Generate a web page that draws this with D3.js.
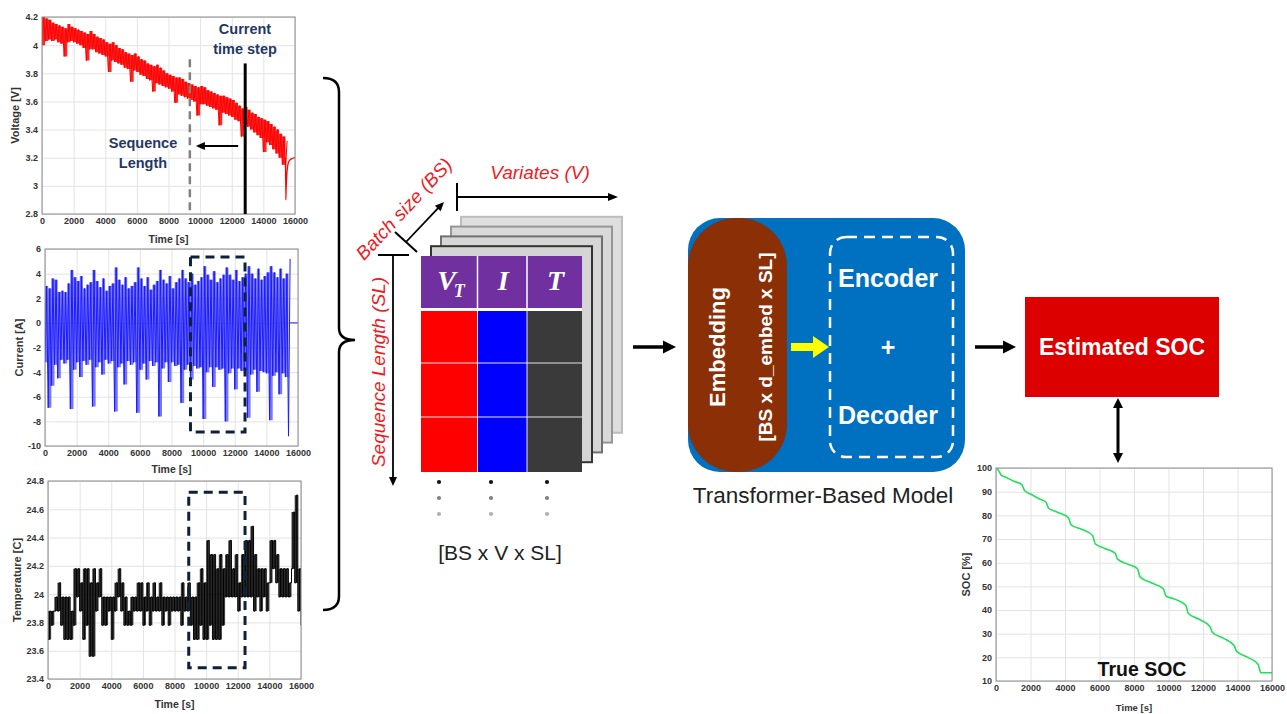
<!DOCTYPE html>
<html>
<head>
<meta charset="utf-8">
<script src="https://cdn.jsdelivr.net/npm/d3@7"></script>
<style>
  html, body { margin: 0; padding: 0; background: #fff; }
  svg { display: block; }
</style>
</head>
<body>
<svg id="fig" width="1287" height="714"></svg>
<script>
// ---------------------------------------------------------------
// Data
// ---------------------------------------------------------------
const timeTicks    = [0, 2000, 4000, 6000, 8000, 10000, 12000, 14000, 16000];
const voltageTicks = [2.8, 3, 3.2, 3.4, 3.6, 3.8, 4, 4.2];
const currentTicks = [-10, -8, -6, -4, -2, 0, 2, 4, 6];
const tempTicks    = [23.4, 23.6, 23.8, 24, 24.2, 24.4, 24.6, 24.8];
const socTicks     = [10, 20, 30, 40, 50, 60, 70, 80, 90, 100];

// Each measured signal is stored as min / max per 200 s window
const windowSec = 200;

// Terminal voltage [V], windows starting at 0 s ... 15400 s
const voltageMax = [4.20,4.19,4.18,4.16,4.15,4.14,4.13,4.12,4.15,4.13,4.12,4.11,4.10,4.09,4.08,4.10,
  4.08,4.06,4.05,4.04,4.02,4.01,4.02,4.00,3.98,3.97,3.95,3.94,3.93,3.94,3.92,3.90,3.89,3.87,3.86,3.85,
  3.86,3.84,3.82,3.80,3.79,3.78,3.77,3.77,3.76,3.74,3.73,3.72,3.71,3.70,3.71,3.70,3.68,3.67,3.66,3.65,
  3.64,3.64,3.63,3.62,3.61,3.59,3.57,3.55,3.56,3.54,3.52,3.51,3.49,3.48,3.47,3.46,3.44,3.42,3.40,3.37,
  3.35,3.32];
const voltageMin = [4.00,4.03,4.04,4.03,4.04,4.02,4.01,3.92,4.02,4.03,4.02,4.01,4.00,3.98,3.89,3.97,
  3.97,3.95,3.94,3.93,3.92,3.81,3.89,3.88,3.87,3.86,3.84,3.83,3.74,3.82,3.81,3.79,3.78,3.76,3.75,3.67,
  3.73,3.72,3.71,3.70,3.69,3.67,3.59,3.65,3.64,3.63,3.62,3.61,3.60,3.50,3.58,3.58,3.57,3.56,3.55,3.54,
  3.43,3.52,3.51,3.50,3.49,3.47,3.46,3.35,3.43,3.42,3.40,3.38,3.36,3.34,3.24,3.31,3.29,3.26,3.23,3.20,
  3.15,3.12];
// End of discharge and relaxation
const voltageEndTime  = [15400, 15420, 15440, 15470, 15520, 15600, 15750, 16000];
const voltageEndValue = [3.20,  2.90,  2.98,  3.06,  3.13,  3.17,  3.19,  3.20];

// Current [A], windows starting at 0 s ... 15400 s
const currentMax = [3.0,2.8,3.6,3.5,2.5,2.6,2.5,3.2,4.3,3.7,3.4,3.8,2.8,3.1,3.3,4.3,
  3.4,2.9,3.6,2.6,3.0,3.2,4.5,3.5,3.1,3.7,2.8,3.0,3.3,4.5,3.6,3.0,3.7,2.7,3.1,3.4,
  4.3,3.5,3.2,3.8,2.8,3.3,3.6,4.3,3.6,3.3,4.0,3.1,3.4,3.7,4.6,3.9,3.5,4.2,3.3,3.6,
  3.9,4.5,3.9,3.5,4.3,3.4,3.7,4.0,4.6,4.0,3.6,4.4,3.5,3.8,4.1,4.6,4.1,3.7,4.4,3.6,
  4.0,5.2];
const currentMin = [-3.2,-6.9,-5.1,-3.4,-4.5,-3.0,-3.3,-3.0,-7.0,-3.8,-3.2,-4.4,-3.1,-3.4,-3.0,-6.8,
  -3.6,-3.2,-4.2,-3.0,-3.3,-3.1,-7.2,-3.6,-3.3,-5.0,-3.1,-3.4,-3.2,-7.3,-3.8,-3.3,-4.6,-3.1,-3.5,-3.2,
  -7.6,-3.7,-3.2,-4.8,-3.2,-3.5,-3.4,-6.5,-3.8,-3.4,-4.6,-3.5,-3.7,-3.6,-7.8,-4.0,-3.6,-5.2,-3.6,-3.8,
  -3.7,-8.0,-4.1,-3.7,-5.4,-3.7,-3.9,-3.8,-7.7,-4.2,-3.8,-5.6,-3.9,-4.0,-4.1,-7.9,-4.3,-4.0,-5.8,-4.1,
  -4.4,-9.2];
const currentEndTime  = [15500, 16000];
const currentEndValue = [0, 0];

// Cell temperature [C], windows starting at 0 s ... 16000 s
const tempMax = [23.88,23.88,23.98,24.08,23.98,23.98,23.98,23.88,24.18,24.18,24.08,24.18,24.18,24.08,24.18,24.08,
  24.18,23.98,23.98,23.98,23.98,24.08,24.18,24.08,23.98,23.88,23.98,23.98,24.08,24.08,23.98,24.08,23.98,24.08,
  23.98,24.08,23.98,23.98,23.98,23.98,23.98,23.98,24.08,23.98,24.08,23.98,23.98,24.08,24.18,24.08,24.38,24.28,
  24.28,24.18,24.28,24.18,24.28,24.38,24.18,24.28,24.08,24.28,24.38,24.38,24.48,24.28,24.18,24.18,24.18,24.08,
  24.38,24.38,24.28,24.18,24.18,24.18,24.08,24.58,24.70,24.18,23.98];
const tempMin = [23.68,23.78,23.88,23.88,23.78,23.68,23.68,23.68,23.78,23.98,23.88,23.68,23.78,23.56,23.56,23.88,
  23.98,23.78,23.78,23.88,23.68,23.88,23.98,23.88,23.78,23.78,23.78,23.88,23.88,23.88,23.78,23.88,23.78,23.88,
  23.88,23.88,23.78,23.88,23.78,23.88,23.88,23.88,23.78,23.88,23.88,23.78,23.68,23.68,23.78,23.68,23.68,23.78,
  23.68,23.68,23.68,23.78,23.98,23.98,23.98,23.98,23.88,23.98,23.98,23.98,23.98,23.88,23.98,23.88,23.98,23.88,
  24.08,24.18,24.08,23.98,23.98,23.98,23.98,24.18,24.08,23.88,23.78];

// Reference state of charge [%]
const socTime  = [0, 150, 300, 600, 1000, 1500, 1650, 2000, 2500, 2900, 3050, 3500, 4200, 4350, 5000, 5600,
  5750, 6300, 6900, 7050, 7600, 8200, 8350, 9000, 9700, 9850, 10400, 11000, 11150, 11800, 12400, 12550,
  13200, 13800, 13950, 14600, 15200, 15350, 16000];
const socValue = [100, 99, 97, 96, 94.5, 93, 90.5, 89, 87, 85.5, 83, 81.5, 79, 76, 74, 71.5,
  68, 66, 64, 61.5, 59.5, 57.5, 54, 51.5, 49, 46, 44.5, 42, 38.5, 36, 33, 30.5,
  28, 25, 22.5, 20, 17, 13.5, 13.5];

// Input window annotations
const currentStepTime = 12850;
const windowStartTime = 9350;

// Input tensor
const variateNames  = ["V", "I", "T"];
const variateSubs   = ["T", "", ""];
const variateColors = ["#ff0000", "#0000ff", "#3a3a3a"];

// ---------------------------------------------------------------
// Drawing
// ---------------------------------------------------------------
const SANS = "'Liberation Sans', Arial, Helvetica, sans-serif";
const SERIF = "'Liberation Serif', 'Times New Roman', serif";
const NAVY = "#1f3864";
const RED_TXT = "#ee1c24";

const svg = d3.select("#fig");
const defs = svg.append("defs");

// MATLAB-like axes panel
function panel(cfg) {
  const x = d3.scaleLinear().domain(cfg.xDomain).range([cfg.x0, cfg.x1]);
  const y = d3.scaleLinear().domain(cfg.yDomain).range([cfg.y1, cfg.y0]);
  const w = cfg.x1 - cfg.x0, h = cfg.y1 - cfg.y0;
  const g = svg.append("g");
  g.append("rect").attr("x", cfg.x0).attr("y", cfg.y0).attr("width", w).attr("height", h).attr("fill", "#fff");

  const gx = g.append("g").attr("transform", `translate(0,${cfg.y1})`)
    .call(d3.axisBottom(x).tickValues(timeTicks).tickSize(-h).tickPadding(4).tickFormat(d => String(d)));
  const gy = g.append("g").attr("transform", `translate(${cfg.x0},0)`)
    .call(d3.axisLeft(y).tickValues(cfg.yTicks).tickSize(-w).tickPadding(4).tickFormat(d => String(d)));
  [gx, gy].forEach(a => {
    a.select(".domain").remove();
    a.selectAll(".tick line").attr("stroke", "#e3e3e3").attr("stroke-width", 1);
    a.selectAll(".tick text").attr("font-family", SANS).attr("font-size", cfg.tickSize || 9)
      .attr("font-weight", "bold").attr("fill", "#333");
  });

  const clipId = "clip" + Math.round(cfg.x0) + "_" + Math.round(cfg.y0);
  defs.append("clipPath").attr("id", clipId).append("rect")
    .attr("x", cfg.x0).attr("y", cfg.y0).attr("width", w).attr("height", h);
  const plot = g.append("g").attr("clip-path", `url(#${clipId})`);

  g.append("text").attr("x", (cfg.x0 + cfg.x1) / 2).attr("y", cfg.y1 + cfg.xTitleOffset)
    .attr("text-anchor", "middle").attr("dominant-baseline", "central")
    .attr("font-family", SANS).attr("font-size", cfg.titleSize || 10.5).attr("font-weight", "bold")
    .attr("fill", "#333").text("Time [s]");
  g.append("text").attr("transform", `translate(${cfg.yTitleX},${(cfg.y0 + cfg.y1) / 2}) rotate(-90)`)
    .attr("text-anchor", "middle").attr("dominant-baseline", "central")
    .attr("font-family", SANS).attr("font-size", cfg.yTitleSize || 10.5).attr("font-weight", "bold")
    .attr("fill", "#333").text(cfg.yTitle);

  const frame = () => g.append("rect").attr("x", cfg.x0).attr("y", cfg.y0).attr("width", w).attr("height", h)
    .attr("fill", "none").attr("stroke", "#8a8a8a").attr("stroke-width", 1);
  return { g, plot, x, y, frame };
}

// Min / max trace: every window is drawn from its minimum up to its maximum
function minMaxPoints(minArr, maxArr) {
  const pts = [];
  minArr.forEach((v, i) => {
    pts.push([i * windowSec, v]);
    pts.push([i * windowSec + windowSec / 2, maxArr[i]]);
  });
  return pts;
}

// Filled min / max band plus the min-max trace on top
function drawEnvelope(p, minArr, maxArr, color, fillOpacity, lineCurve) {
  const rows = minArr.map((v, i) => ({ t: i * windowSec, lo: v, hi: maxArr[i] }));
  p.plot.append("path").datum(rows)
    .attr("fill", color).attr("fill-opacity", fillOpacity).attr("stroke", "none")
    .attr("d", d3.area().x(d => p.x(d.t)).y0(d => p.y(d.lo)).y1(d => p.y(d.hi)).curve(d3.curveStepAfter));
  p.plot.append("path").datum(minMaxPoints(minArr, maxArr))
    .attr("fill", "none").attr("stroke", color).attr("stroke-width", 1)
    .attr("d", d3.line().x(d => p.x(d[0])).y(d => p.y(d[1])).curve(lineCurve));
}

function arrow(g, x1, y1, x2, y2, o) {
  const w = o.w || 2, hl = o.hl || 10, hw = o.hw || 8, color = o.color || "#000";
  const dx = x2 - x1, dy = y2 - y1, L = Math.hypot(dx, dy);
  const ux = dx / L, uy = dy / L;
  const sx = o.both ? x1 + ux * hl * 0.8 : x1, sy = o.both ? y1 + uy * hl * 0.8 : y1;
  const ex = x2 - ux * hl * 0.8, ey = y2 - uy * hl * 0.8;
  g.append("line").attr("x1", sx).attr("y1", sy).attr("x2", ex).attr("y2", ey)
    .attr("stroke", color).attr("stroke-width", w);
  const head = (tx, ty, vx, vy) => {
    const bx = tx - vx * hl, by = ty - vy * hl;
    g.append("polygon").attr("fill", color).attr("points",
      [[tx, ty], [bx - vy * hw / 2, by + vx * hw / 2], [bx + vy * hw / 2, by - vx * hw / 2]].map(p => p.join(",")).join(" "));
  };
  head(x2, y2, ux, uy);
  if (o.both) head(x1, y1, -ux, -uy);
}

function label(g, x, y, s, opts) {
  const t = g.append("text").attr("x", x).attr("y", y).attr("text-anchor", "middle")
    .attr("dominant-baseline", "central").attr("font-family", opts.family || SANS)
    .attr("font-size", opts.size).attr("fill", opts.fill || "#000").text(s);
  if (opts.bold) t.attr("font-weight", "bold");
  if (opts.italic) t.attr("font-style", "italic");
  if (opts.rotate) t.attr("x", null).attr("y", null).attr("transform", `translate(${x},${y}) rotate(${opts.rotate})`);
  return t;
}

// ---------- Voltage ----------
const pv = panel({ x0: 42, x1: 295, y0: 17, y1: 214, xDomain: [0, 16000], yDomain: [2.8, 4.2],
  yTicks: voltageTicks, yTitle: "Voltage [V]", yTitleX: 15, xTitleOffset: 25, yTitleSize: 11 });
drawEnvelope(pv, voltageMin, voltageMax, "#ff0000", 0.85, d3.curveLinear);
pv.plot.append("path").datum(voltageEndTime.map((t, i) => [t, voltageEndValue[i]]))
  .attr("fill", "none").attr("stroke", "#ff0000").attr("stroke-width", 1.3)
  .attr("d", d3.line().x(d => pv.x(d[0])).y(d => pv.y(d[1])).curve(d3.curveMonotoneX));
pv.frame();

// window start (dashed) and current time step (solid)
pv.g.append("line").attr("x1", pv.x(windowStartTime)).attr("x2", pv.x(windowStartTime))
  .attr("y1", pv.y(3.9)).attr("y2", pv.y(2.8))
  .attr("stroke", "#808080").attr("stroke-width", 2.5).attr("stroke-dasharray", "8,5");
pv.g.append("line").attr("x1", pv.x(currentStepTime)).attr("x2", pv.x(currentStepTime))
  .attr("y1", pv.y(3.87)).attr("y2", pv.y(2.8))
  .attr("stroke", "#000").attr("stroke-width", 3);
arrow(pv.g, pv.x(currentStepTime) - 7, pv.y(3.283), pv.x(windowStartTime) + 6, pv.y(3.283),
  { w: 2, hl: 9, hw: 8 });
label(pv.g, 245, 29, "Current", { size: 14.5, bold: true, fill: NAVY });
label(pv.g, 245, 49, "time step", { size: 14.5, bold: true, fill: NAVY });
label(pv.g, 143, 143, "Sequence", { size: 14.5, bold: true, fill: NAVY });
label(pv.g, 143, 163, "Length", { size: 14.5, bold: true, fill: NAVY });

// ---------- Current ----------
const pc = panel({ x0: 45, x1: 298, y0: 249, y1: 446, xDomain: [0, 16000], yDomain: [-10, 6],
  yTicks: currentTicks, yTitle: "Current [A]", yTitleX: 19, xTitleOffset: 23, yTitleSize: 11 });
drawEnvelope(pc, currentMin, currentMax, "#1a1aff", 0.6, d3.curveLinear);
pc.plot.append("path").datum(currentEndTime.map((t, i) => [t, currentEndValue[i]]))
  .attr("fill", "none").attr("stroke", "#1a1aff").attr("stroke-width", 1)
  .attr("d", d3.line().x(d => pc.x(d[0])).y(d => pc.y(d[1])));
pc.frame();
pc.g.append("rect").attr("x", pc.x(9200)).attr("y", pc.y(5.35))
  .attr("width", pc.x(12650) - pc.x(9200)).attr("height", pc.y(-8.87) - pc.y(5.35))
  .attr("fill", "none").attr("stroke", "#0d2238").attr("stroke-width", 3).attr("stroke-dasharray", "9,6");

// ---------- Temperature ----------
const pt = panel({ x0: 48, x1: 301, y0: 481, y1: 679, xDomain: [0, 16000], yDomain: [23.4, 24.8],
  yTicks: tempTicks, yTitle: "Temperature [C]", yTitleX: 17, xTitleOffset: 25, yTitleSize: 11 });
drawEnvelope(pt, tempMin, tempMax, "#000000", 0.75, d3.curveStepAfter);
pt.frame();
pt.g.append("rect").attr("x", pt.x(8900)).attr("y", pt.y(24.72))
  .attr("width", pt.x(12460) - pt.x(8900)).attr("height", pt.y(23.48) - pt.y(24.72))
  .attr("fill", "none").attr("stroke", "#0d2238").attr("stroke-width", 3).attr("stroke-dasharray", "9,6");

// ---------- Brace ----------
svg.append("path")
  .attr("d", "M323,78 Q339,78 339,92 L339,328 Q339,340 355,340 Q339,340 339,352 L339,596 Q339,610 323,610")
  .attr("fill", "none").attr("stroke", "#000").attr("stroke-width", 2.5);

// ---------- Input tensor ----------
const tz = svg.append("g");
const mx0 = 421, mx1 = 582, my0 = 256, my1 = 472;
const layerStyle = [
  { fill: "#d4d4d4", stroke: "#333333" },
  { fill: "#d6d6d6", stroke: "#707070" },
  { fill: "#d9d9d9", stroke: "#969696" },
  { fill: "#dedede", stroke: "#bdbdbd" }
];
for (let k = 4; k >= 1; k--) {
  tz.append("rect").attr("x", mx0 + 10 * k).attr("y", my0 - 9.8 * k)
    .attr("width", mx1 - mx0).attr("height", my1 - my0)
    .attr("fill", layerStyle[k - 1].fill).attr("stroke", layerStyle[k - 1].stroke).attr("stroke-width", 2);
}
tz.append("rect").attr("x", mx0).attr("y", my0).attr("width", mx1 - mx0).attr("height", my1 - my0).attr("fill", "#fff");
const colEdges = [421, 477.5, 527, 582];
const headerBottom = 308, bodyTop = 311;
const rowEdges = [bodyTop, 363, 417, my1];
variateNames.forEach((name, i) => {
  const cx0 = colEdges[i], cx1 = colEdges[i + 1];
  tz.append("rect").attr("x", cx0).attr("y", my0).attr("width", cx1 - cx0).attr("height", headerBottom - my0)
    .attr("fill", "#7030a0");
  tz.append("rect").attr("x", cx0).attr("y", bodyTop).attr("width", cx1 - cx0).attr("height", my1 - bodyTop)
    .attr("fill", variateColors[i]);
  const t = tz.append("text").attr("x", i === 0 ? 451 : (cx0 + cx1) / 2 + 1).attr("y", 290)
    .attr("text-anchor", "middle").attr("font-family", SERIF).attr("font-style", "italic")
    .attr("font-weight", "bold").attr("font-size", 28).attr("fill", "#fff");
  t.append("tspan").text(name);
  if (variateSubs[i]) t.append("tspan").attr("font-size", 18).attr("dy", 7).attr("dx", -2).text(variateSubs[i]);
});
// cell separators
colEdges.slice(1, 3).forEach(cx => {
  tz.append("line").attr("x1", cx).attr("x2", cx).attr("y1", my0).attr("y2", headerBottom)
    .attr("stroke", "#ffffff").attr("stroke-width", 1.5);
  tz.append("line").attr("x1", cx).attr("x2", cx).attr("y1", bodyTop).attr("y2", my1)
    .attr("stroke", "#e6e6e6").attr("stroke-width", 1);
});
rowEdges.slice(1, 3).forEach(ry => {
  tz.append("line").attr("x1", mx0).attr("x2", mx1).attr("y1", ry).attr("y2", ry)
    .attr("stroke", "#e6e6e6").attr("stroke-width", 1);
});
// continuation dots
const dotX = [439, 491, 547], dotY = [482, 498, 514], dotC = ["#111", "#808080", "#b0b0b0"];
dotX.forEach(dx => dotY.forEach((dy, j) => {
  tz.append("circle").attr("cx", dx).attr("cy", dy).attr("r", 2.1).attr("fill", dotC[j]);
}));
label(tz, 500, 552, "[BS x V x SL]", { size: 21, fill: "#222" });

// dimension arrows
arrow(tz, 393, 255, 393, 486, { w: 1.8, hl: 9, hw: 8 });
tz.append("line").attr("x1", 378).attr("x2", 409).attr("y1", 255).attr("y2", 255).attr("stroke", "#000").attr("stroke-width", 2);
arrow(tz, 406, 242, 444, 202, { w: 1.8, hl: 9, hw: 8 });
tz.append("line").attr("x1", 395).attr("y1", 232).attr("x2", 417).attr("y2", 252).attr("stroke", "#000").attr("stroke-width", 2);
arrow(tz, 457, 197, 618, 197, { w: 1.8, hl: 10, hw: 8 });
tz.append("line").attr("x1", 457).attr("x2", 457).attr("y1", 183).attr("y2", 211).attr("stroke", "#000").attr("stroke-width", 2);

label(tz, 540, 172, "Variates (V)", { size: 19, italic: true, fill: RED_TXT });
label(tz, 404, 209, "Batch size (BS)", { size: 19, italic: true, fill: RED_TXT, rotate: -47 });
label(tz, 378, 372, "Sequence Length (SL)", { size: 19, italic: true, fill: RED_TXT, rotate: -90 });

// ---------- Transformer block ----------
const tb = svg.append("g");
arrow(tb, 633, 347, 676, 347, { w: 3.5, hl: 13, hw: 13 });
tb.append("rect").attr("x", 688).attr("y", 218).attr("width", 277).attr("height", 254).attr("rx", 32)
  .attr("fill", "#0070c0");
tb.append("rect").attr("x", 688).attr("y", 218).attr("width", 99).attr("height", 254).attr("rx", 48)
  .attr("fill", "#8b2f07");
label(tb, 717, 347, "Embedding", { size: 22, bold: true, fill: "#fff", rotate: -90 });
label(tb, 765, 347, "[BS x d_embed x SL]", { size: 19, bold: true, fill: "#fff", rotate: -90 });
tb.append("polygon").attr("fill", "#ffff00")
  .attr("points", "791,343 813,343 813,336 829,347 813,358 813,351 791,351");
tb.append("rect").attr("x", 830).attr("y", 237).attr("width", 123).attr("height", 220).attr("rx", 16)
  .attr("fill", "none").attr("stroke", "#fff").attr("stroke-width", 2.5).attr("stroke-dasharray", "11,7");
label(tb, 888, 278, "Encoder", { size: 25, bold: true, fill: "#fff" });
label(tb, 888, 347, "+", { size: 25, bold: true, fill: "#fff" });
label(tb, 888, 415, "Decoder", { size: 25, bold: true, fill: "#fff" });
label(tb, 823, 495, "Transformer-Based Model", { size: 22.5, fill: "#222" });

// ---------- Estimated SOC ----------
arrow(svg, 975, 347, 1016, 347, { w: 3.5, hl: 13, hw: 13 });
svg.append("rect").attr("x", 1025).attr("y", 297).attr("width", 194).attr("height", 100).attr("fill", "#dd0000");
label(svg, 1122, 347, "Estimated SOC", { size: 23, bold: true, fill: "#fff" });
arrow(svg, 1118, 398, 1118, 463, { w: 3, hl: 10, hw: 10, both: true });

// ---------- True SOC ----------
const ps = panel({ x0: 996, x1: 1272, y0: 468, y1: 681, xDomain: [0, 16000], yDomain: [10, 100],
  yTicks: socTicks, yTitle: "SOC [%]", yTitleX: 966, xTitleOffset: 26, titleSize: 9.5, yTitleSize: 11 });
ps.plot.append("path").datum(socTime.map((t, i) => [t, socValue[i]]))
  .attr("fill", "none").attr("stroke", "#22e05a").attr("stroke-width", 1.6)
  .attr("d", d3.line().x(d => ps.x(d[0])).y(d => ps.y(d[1])).curve(d3.curveMonotoneX));
ps.frame();
label(ps.g, 1142, 669, "True SOC", { size: 19.5, bold: true, fill: "#111" });
</script>
</body>
</html>
